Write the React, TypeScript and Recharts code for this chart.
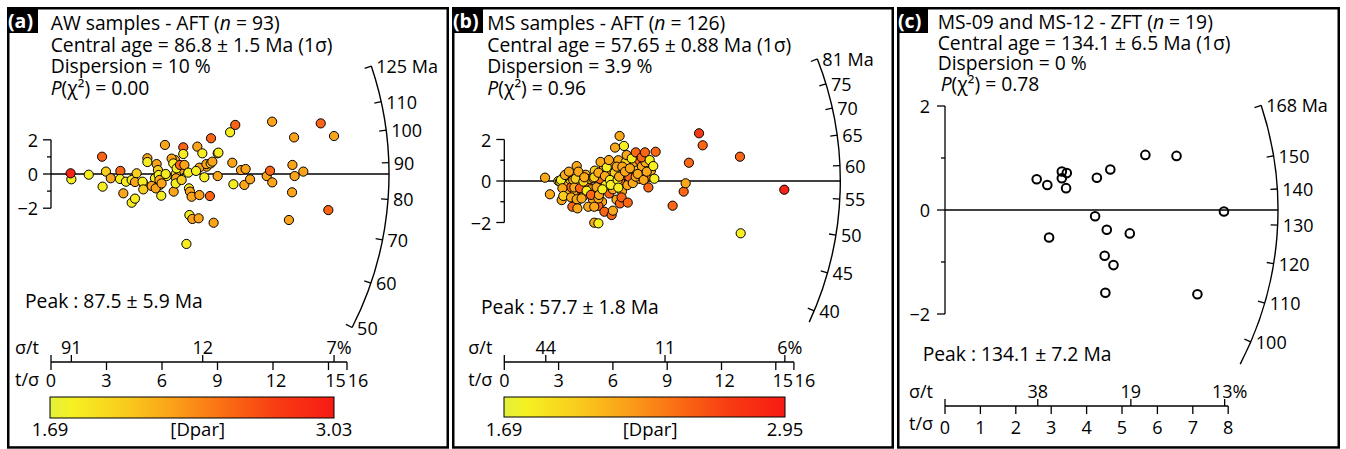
import React from 'react';
import { ScatterChart, Scatter, XAxis, YAxis, ReferenceLine } from 'recharts';

const FONT = '"Open Sans", "Noto Sans", sans-serif';
const H = 449;
const XAXIS_H = 30;
const LABEL_SIZE = 18;
const HEAD_SIZE = 19.3;

// grains: [t/sigma, standardised estimate, Dpar]
const awGrains: number[][] = [
  [5.62, -0.25, 1.82], [6.25, -0.12, 1.82], [6.97, 0.23, 2.25], [4.99, -0.55, 2.25],
  [8.41, 0.43, 2.25], [5.89, -0.64, 1.82], [6.7, 0.82, 2.25],
  [1.1, -0.31, 1.82], [1.06, 0.04, 2.96], [2.04, -0.04, 1.82], [2.76, 1.01, 2.56],
  [2.97, 0.14, 2.03], [2.79, -0.74, 1.82], [3.23, -0.25, 2.25], [3.75, 0.18, 2.56],
  [3.73, -0.29, 1.82], [3.91, -1.13, 2.25], [4.05, -0.45, 1.82], [4.36, -0.35, 1.82],
  [4.36, -1.68, 1.82], [4.54, -1.44, 1.82], [4.63, 0.04, 2.03], [4.54, -0.47, 2.25],
  [4.95, -0.45, 1.82], [4.99, -0.9, 2.03], [5.21, 0.92, 2.25], [5.21, 0.7, 1.82],
  [5.44, -0.7, 2.25], [5.66, -0.84, 2.25], [5.71, 0.58, 2.25], [5.78, 0.23, 2.03],
  [5.82, -0.06, 1.82], [5.86, -0.35, 2.25], [5.98, -0.55, 2.25], [5.96, -1.27, 1.82],
  [6.16, 1.7, 2.25], [6.2, 0.0, 1.82], [6.52, 0.9, 2.25], [6.61, 0.62, 1.82],
  [6.63, -1.03, 2.25], [6.74, 0.0, 2.03], [6.76, -0.25, 2.25], [6.74, -0.55, 1.82],
  [6.79, 0.33, 1.82], [6.97, 0.53, 2.56], [7.06, -0.35, 2.03], [7.15, 1.56, 2.56],
  [7.15, 1.17, 1.82], [7.21, 0.53, 2.25], [7.42, 0.08, 1.82], [7.46, -0.84, 1.82],
  [7.48, -2.4, 1.82], [7.51, -1.03, 2.25], [7.6, -1.33, 2.25], [7.64, -2.63, 2.25],
  [7.32, -4.09, 1.82], [7.91, 1.6, 2.25], [7.98, -2.59, 2.25], [8.02, -1.23, 2.25],
  [8.02, 0.37, 2.25], [7.84, 0.18, 1.82], [8.18, 1.21, 1.82], [8.29, -0.19, 1.82],
  [8.4, 0.58, 2.25], [8.59, -1.29, 2.56], [8.63, 0.62, 2.03], [8.65, 2.09, 2.56],
  [8.72, 0.72, 2.25], [8.79, -2.85, 2.25], [9.01, 1.21, 2.25], [9.05, 1.25, 1.82],
  [9.01, -0.12, 2.25], [9.68, 2.44, 1.82], [9.96, 2.87, 2.56], [9.8, 0.66, 2.25],
  [9.86, -0.6, 1.82], [10.27, 0.23, 2.25], [10.45, -0.64, 2.25], [10.52, 0.29, 2.25],
  [10.76, -0.31, 2.25], [11.66, -0.12, 2.25], [11.84, 0.19, 2.56], [11.96, -0.49, 2.25],
  [11.95, 3.06, 2.25], [12.86, -2.69, 2.25], [13.03, -1.07, 2.25], [13.05, 0.53, 2.25],
  [13.17, -0.12, 2.25], [13.14, 2.14, 2.25], [13.64, 0.14, 2.25], [14.58, 2.96, 2.56],
  [14.99, -2.11, 2.56], [15.3, 2.22, 2.25],
];

const msGrains: number[][] = [
  [3.4, -0.15, 2.2], [3.5, -0.5, 2.2], [3.6, 0.1, 2.0], [3.7, -0.3, 2.5], [3.9, -0.6, 2.2],
  [4.1, -0.1, 2.2], [4.2, 0.25, 2.0], [4.3, -0.5, 2.5], [4.4, -0.7, 2.2], [4.5, 0.3, 2.2],
  [4.6, -0.2, 2.5], [4.7, 0.1, 2.2], [4.8, -0.4, 2.2], [4.9, -0.9, 2.2], [5.0, 0.5, 2.0],
  [5.1, -0.3, 2.2], [5.3, 0.1, 2.5], [5.4, -1.0, 2.2], [5.5, 0.6, 2.2], [5.6, -0.2, 1.8],
  [5.7, 0.3, 2.2], [5.8, -0.6, 2.5], [5.9, 0.8, 2.2], [6.0, -0.4, 2.2], [6.1, 0.4, 2.0],
  [6.2, -0.9, 2.2], [6.3, 1.0, 2.2], [6.4, 0.0, 2.5], [6.5, -0.5, 2.2], [6.6, 0.3, 2.2],
  [6.7, 0.9, 2.0], [6.8, -0.2, 2.2], [6.9, 0.2, 2.5], [7.0, 0.6, 2.2], [7.1, -0.1, 2.2],
  [7.2, 0.9, 2.2], [7.3, 0.5, 2.0], [7.45, 1.0, 2.5], [7.5, 0.1, 2.2], [7.6, 0.7, 2.2],
  [7.8, 0.9, 2.2], [7.9, 0.2, 2.5], [8.1, 0.5, 2.2], [3.3, 0.2, 2.2], [4.0, -1.0, 2.2],
  [5.2, -1.2, 2.5],
  [2.25, 0.16, 2.2], [2.52, -0.64, 2.2], [2.99, 0.0, 2.0], [3.08, -0.03, 2.0], [3.13, 0.05, 1.8],
  [3.17, -0.92, 2.2], [3.21, -0.35, 2.2], [3.26, -0.72, 2.0], [3.35, 0.29, 2.2], [3.57, 0.45, 2.2],
  [3.69, -0.79, 2.2], [3.76, -1.24, 2.5], [3.81, 0.05, 2.2], [3.87, -0.31, 2.2], [3.94, 0.11, 2.0],
  [4.0, 0.72, 2.2], [4.0, -0.88, 2.2], [4.04, -1.32, 2.2], [4.09, 0.45, 2.2], [4.18, -0.35, 2.5],
  [4.27, -0.84, 2.2], [4.37, -0.03, 2.0], [4.42, 0.18, 2.2], [4.55, -0.47, 1.8], [4.64, -1.24, 2.2],
  [4.79, -0.67, 2.5], [4.92, 0.13, 2.2], [4.97, 0.18, 2.0], [4.97, -1.24, 2.2], [4.97, -2.01, 2.2],
  [5.2, -2.04, 1.8], [5.2, -0.84, 2.2], [5.23, -0.67, 2.2], [5.2, 0.4, 2.2], [5.32, 0.92, 2.2],
  [5.42, -0.4, 1.8], [5.53, -1.48, 2.5], [5.56, 0.24, 2.2], [5.66, 0.66, 1.8], [5.78, 1.01, 2.2],
  [5.84, 0.05, 1.8], [5.88, -0.19, 1.8], [5.93, -1.64, 2.5], [6.0, -1.43, 2.2], [6.12, 1.61, 2.2],
  [6.21, 0.69, 2.2], [6.26, 0.05, 1.8], [6.3, -0.32, 1.8], [6.34, 0.21, 2.2], [6.37, 2.17, 2.2],
  [6.39, -1.08, 2.5], [6.48, -0.79, 2.5], [6.52, 0.69, 2.2], [6.61, 1.69, 1.8], [6.67, 0.45, 2.2],
  [6.76, 1.25, 2.2], [6.82, -1.04, 2.5], [6.94, 0.61, 2.2], [7.04, 1.09, 1.8], [7.26, 1.38, 2.5],
  [7.26, 0.21, 2.2], [7.37, 0.34, 2.2], [7.59, 1.14, 2.5], [7.7, 0.05, 2.2], [7.77, 1.38, 2.5],
  [7.87, 0.45, 2.2], [7.96, -0.31, 2.5], [8.03, 1.01, 1.8], [8.23, 0.72, 1.8], [8.29, 0.11, 1.8],
  [8.36, 1.41, 2.5], [9.3, -1.19, 2.5], [9.91, -0.51, 2.5], [10.02, -0.11, 2.2], [10.2, 0.88, 2.5],
  [10.76, 2.3, 2.72], [10.96, 1.72, 2.5], [13.02, 1.17, 2.5], [13.06, -2.52, 1.8], [15.47, -0.42, 2.88],
];

const zftGrains: number[][] = [
  [2.59, 0.59], [2.89, 0.48], [2.94, -0.53], [3.3, 0.74], [3.3, 0.61], [3.44, 0.71],
  [3.42, 0.42], [4.24, -0.12], [4.29, 0.62], [4.57, -0.38], [4.51, -0.88], [4.67, 0.78],
  [4.76, -1.06], [4.53, -1.59], [5.22, -0.45], [5.66, 1.06], [6.54, 1.04], [7.13, -1.62],
  [7.88, -0.03],
];

const awArcTicks = [125, 110, 100, 90, 80, 70, 60, 50];
const msArcTicks = [81, 75, 70, 65, 60, 55, 50, 45, 40];
const zftArcTicks = [168, 150, 140, 130, 120, 110, 100];

const aftPrecisionTicks = [0, 3, 6, 9, 12, 15, 16];
const zftPrecisionTicks = [0, 1, 2, 3, 4, 5, 6, 7, 8];

const awErrorLabels = ['91', '12', '7%'];
const awErrorAt = [1.1, 8.2, 15.3];
const msErrorLabels = ['44', '11', '6%'];
const msErrorAt = [2.29, 8.88, 15.5];
const zftErrorLabels = ['38', '19', '13%'];
const zftErrorAt = [2.62, 5.25, 7.9];

const yTickValues = [-2, -1, 0, 1, 2];
const yTickLabels = ['\u22122', '', '0', '', '2'];

const tags = ['(a)', '(b)', '(c)'];
const titles = ['AW samples - AFT', 'MS samples - AFT', 'MS-09 and MS-12 - ZFT'];
const counts = [93, 126, 19];
const centralAges = ['86.8 ± 1.5', '57.65 ± 0.88', '134.1 ± 6.5'];
const dispersions = ['10', '3.9', '0'];
const pValues = ['0.00', '0.96', '0.78'];
const peaks = ['87.5 ± 5.9', '57.7 ± 1.8', '134.1 ± 7.2'];
const dparRanges = [[1.69, 3.03], [1.69, 2.95]];

const STOPS: [number, number[]][] = [
  [0, [226, 240, 58]], [0.08, [246, 240, 34]], [0.28, [249, 200, 28]], [0.45, [251, 156, 24]],
  [0.62, [250, 108, 20]], [0.8, [247, 60, 18]], [1, [248, 26, 20]],
];
const dparColor = (d: number, lo: number, hi: number) => {
  const t = Math.max(0, Math.min(1, (d - lo) / (hi - lo)));
  for (let i = 1; i < STOPS.length; i++) {
    if (t <= STOPS[i][0]) {
      const [t0, c0] = STOPS[i - 1];
      const [t1, c1] = STOPS[i];
      const f = (t - t0) / (t1 - t0);
      const c = c0.map((v, k) => Math.round(v + (c1[k] - v) * f));
      return `rgb(${c.join(',')})`;
    }
  }
  return 'rgb(248,26,20)';
};

type Cfg = {
  boxL: number; boxR: number; ox: number; oy: number; kx: number; ky: number;
  axisY: number; R: number; xMax: number; yMax: number; central: number;
  arcTicks: number[]; arcFrom: number; arcTo: number; precTicks: number[];
  errLabels: string[]; errAt: number[]; grains: number[][]; dpar?: number[];
  tickMargin: number; yLabelGap: number; nudge: Record<number, number>;
};

const panels: Cfg[] = [
  {
    boxL: 7, boxR: 449, ox: 51, oy: 174, kx: 18.5, ky: 17.1, axisY: 362, R: 338, xMax: 21, yMax: 10,
    central: 86.8, arcTicks: awArcTicks, arcFrom: 125, arcTo: 50, precTicks: aftPrecisionTicks,
    errLabels: awErrorLabels, errAt: awErrorAt, grains: awGrains, dpar: dparRanges[0], tickMargin: 4, yLabelGap: 13,
    nudge: { 12: 3, 15: 7, 16: 11 },
  },
  {
    boxL: 452, boxR: 894, ox: 504.3, oy: 181, kx: 18.1, ky: 20.75, axisY: 362, R: 336, xMax: 21, yMax: 8,
    central: 57.65, arcTicks: msArcTicks, arcFrom: 81, arcTo: 38.5, precTicks: aftPrecisionTicks,
    errLabels: msErrorLabels, errAt: msErrorAt, grains: msGrains, dpar: dparRanges[1], tickMargin: 4, yLabelGap: 13,
    nudge: { 12: 3, 15: 7, 16: 11 },
  },
  {
    boxL: 897, boxR: 1340, ox: 945, oy: 210, kx: 35.4, ky: 52, axisY: 406, R: 333, xMax: 11, yMax: 4,
    central: 134.1, arcTicks: zftArcTicks, arcFrom: 168, arcTo: 94, precTicks: zftPrecisionTicks,
    errLabels: zftErrorLabels, errAt: zftErrorAt, grains: zftGrains, tickMargin: 7, yLabelGap: 15,
    nudge: {},
  },
];

const RadialPlot = ({ p }: { p: Cfg }) => {
  const w = p.boxR - p.boxL;
  const left = p.ox - p.boxL;
  const yMin = -(p.axisY - p.oy) / p.ky;
  const margin = {
    top: p.oy - p.yMax * p.ky,
    left,
    right: w - left - p.xMax * p.kx,
    bottom: H - p.axisY - XAXIS_H,
  };
  const ang = (t: number) => Math.atan((Math.log(t / p.central) * p.ky) / p.kx);

  const arcShape = (s: any) => {
    const { cx, cy } = s;
    const pt = (a: number, r: number) => [cx + r * Math.cos(a), cy - r * Math.sin(a)];
    const [x1, y1] = pt(ang(p.arcFrom), p.R);
    const [x2, y2] = pt(ang(p.arcTo), p.R);
    return (
      <g>
        <line x1={cx} y1={cy} x2={cx + p.R} y2={cy} stroke="#000" strokeWidth={1.4} />
        <path d={`M${x1},${y1} A${p.R},${p.R} 0 0 1 ${x2},${y2}`} fill="none" stroke="#000" strokeWidth={1.4} />
        {p.arcTicks.map((t, i) => {
          const a = ang(t);
          const [xa, ya] = pt(a, p.R);
          const [xb, yb] = pt(a, p.R - 7);
          return (
            <g key={t}>
              <line x1={xa} y1={ya} x2={xb} y2={yb} stroke="#000" strokeWidth={1.3} />
              <text x={xa + 5} y={ya} dominantBaseline="central" fontSize={LABEL_SIZE} fontFamily={FONT} fill="#000">
                {i === 0 ? `${t} Ma` : t}
              </text>
            </g>
          );
        })}
      </g>
    );
  };

  const yTickShape = (s: any) => {
    const major = s.payload.label !== '';
    return (
      <g>
        <line x1={s.cx} y1={s.cy} x2={s.cx - (major ? 8 : 4)} y2={s.cy} stroke="#000" strokeWidth={1.3} />
        <text x={s.cx - p.yLabelGap} y={s.cy} textAnchor="end" dominantBaseline="central" fontSize={LABEL_SIZE} fontFamily={FONT} fill="#000">
          {s.payload.label}
        </text>
      </g>
    );
  };

  const errShape = (s: any) => (
    <g>
      <line x1={s.cx} y1={s.cy} x2={s.cx} y2={s.cy - 7} stroke="#000" strokeWidth={1.3} />
      {s.payload.label === '' ? (
        <g fontSize={LABEL_SIZE} fontFamily={FONT} fill="#000" textAnchor="end">
          <text x={s.cx - 12} y={s.cy - 8}>σ/t</text>
          <text x={s.cx - 12} y={s.cy + 24}>t/σ</text>
        </g>
      ) : (
        <text x={s.cx + (s.payload.label.endsWith('%') ? 5 : 0)} y={s.cy - 8} textAnchor="middle" fontSize={LABEL_SIZE} fontFamily={FONT} fill="#000">
          {s.payload.label}
        </text>
      )}
    </g>
  );

  const precTick = (t: any) => (
    <text x={t.x + (p.nudge[t.payload.value] || 0)} y={t.y} dy="0.71em" textAnchor="middle" fontSize={LABEL_SIZE} fontFamily={FONT} fill="#000">
      {t.payload.value}
    </text>
  );

  const grainShape = (s: any) =>
    p.dpar ? (
      <circle cx={s.cx} cy={s.cy} r={4.6} fill={dparColor(s.payload.d, p.dpar[0], p.dpar[1])} stroke="#000" strokeWidth={1} />
    ) : (
      <circle cx={s.cx} cy={s.cy} r={4.3} fill="none" stroke="#000" strokeWidth={2} />
    );

  const grainData = p.grains.map(([x, y, d]) => ({ x, y, d }));
  const yTickData = yTickValues.map((v, i) => ({ x: 0, y: v, label: yTickLabels[i] }));
  const errData = [{ x: 0, y: yMin, label: '' }, ...p.errAt.map((x, i) => ({ x, y: yMin, label: p.errLabels[i] }))];
  const lastTick = p.precTicks[p.precTicks.length - 1];

  return (
    <div style={{ position: 'absolute', left: p.boxL, top: 0 }}>
      <ScatterChart width={w} height={H} margin={margin}>
        <XAxis
          type="number"
          dataKey="x"
          domain={[0, p.xMax]}
          ticks={p.precTicks}
          interval={0}
          axisLine={false}
          tickSize={8}
          tickMargin={p.tickMargin}
          height={XAXIS_H}
          stroke="#000"
          tickLine={{ stroke: '#000', strokeWidth: 1.3 }}
          tick={precTick}
        />
        <YAxis type="number" dataKey="y" domain={[yMin, p.yMax]} hide />
        <Scatter data={[{ x: 0, y: 0 }]} shape={arcShape} isAnimationActive={false} />
        <Scatter data={yTickData} shape={yTickShape} line={{ stroke: '#000', strokeWidth: 1.3 }} isAnimationActive={false} />
        <ReferenceLine
          segment={[{ x: 0, y: yMin }, { x: lastTick, y: yMin }]}
          stroke="#000"
          strokeWidth={1.3}
          ifOverflow="visible"
        />
        <Scatter data={errData} shape={errShape} isAnimationActive={false} />
        <Scatter data={grainData} shape={grainShape} isAnimationActive={false} />
      </ScatterChart>
    </div>
  );
};

const headerX = [50.7, 487.3, 937.7];
const headerY = [30, 30, 29.3];
const lineGap = [21.5, 21.5, 20.5];
const peakPos = [[25, 308], [481, 314], [922.7, 361]];
const barPos = [[50, 397, 284, 21], [504, 397, 281, 20]];

const Overlay = () => (
  <svg width={1346} height={449} style={{ position: 'absolute', left: 0, top: 0, pointerEvents: 'none' }}>
    <defs>
      <linearGradient id="dparGrad" x1="0" x2="1" y1="0" y2="0">
        {STOPS.map(([t, c]) => (
          <stop key={t} offset={t} stopColor={`rgb(${c.join(',')})`} />
        ))}
      </linearGradient>
    </defs>
    {panels.map((p, i) => {
      const hx = headerX[i];
      const hy = headerY[i];
      const g = lineGap[i];
      return (
        <g key={i} fontFamily={FONT} fill="#000">
          <rect x={p.boxL + 1.25} y={8.25} width={p.boxR - p.boxL - 2.5} height={439.2} fill="none" stroke="#000" strokeWidth={2.5} />
          <rect x={p.boxL} y={7} width={31} height={26} fill="#000" />
          <text x={p.boxL + 1} y={27.5} fontSize={19.5} fontWeight="bold" fill="#fff">{tags[i]}</text>
          <text x={hx} y={hy} fontSize={HEAD_SIZE}>
            {titles[i]} (<tspan fontStyle="italic">n</tspan> = {counts[i]})
          </text>
          <text x={hx} y={hy + g} fontSize={HEAD_SIZE}>Central age = {centralAges[i]} Ma (1σ)</text>
          <text x={hx} y={hy + 2 * g} fontSize={HEAD_SIZE}>Dispersion = {dispersions[i]} %</text>
          <text x={hx + (i === 2 ? 3 : 0)} y={hy + 3 * g} fontSize={HEAD_SIZE}>
            <tspan fontStyle="italic">P</tspan>(χ²) = {pValues[i]}
          </text>
          <text x={peakPos[i][0]} y={peakPos[i][1]} fontSize={HEAD_SIZE}>Peak : {peaks[i]} Ma</text>
          {barPos[i] && (
            <g>
              <rect x={barPos[i][0]} y={barPos[i][1]} width={barPos[i][2]} height={barPos[i][3]} fill="url(#dparGrad)" stroke="#000" strokeWidth={1} />
              <text x={barPos[i][0]} y={436} fontSize={18.5} textAnchor="middle">{dparRanges[i][0].toFixed(2)}</text>
              <text x={barPos[i][0] + barPos[i][2] * 0.52} y={436} fontSize={18.5} textAnchor="middle">[Dpar]</text>
              <text x={barPos[i][0] + barPos[i][2]} y={436} fontSize={18.5} textAnchor="middle">{dparRanges[i][1].toFixed(2)}</text>
            </g>
          )}
        </g>
      );
    })}
  </svg>
);

export default function App() {
  return (
    <div style={{ position: 'absolute', left: 0, top: 0, width: 1346, height: 449, background: '#fff', overflow: 'hidden' }}>
      {panels.map((p, i) => (
        <RadialPlot key={i} p={p} />
      ))}
      <Overlay />
    </div>
  );
}
